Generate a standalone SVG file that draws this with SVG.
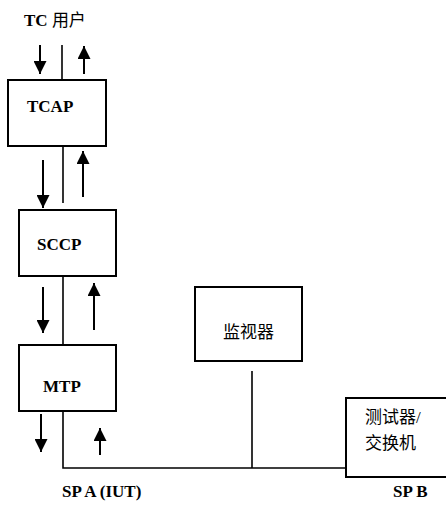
<svg xmlns="http://www.w3.org/2000/svg" width="446" height="505" viewBox="0 0 446 505">
<style>
.box{fill:#fff;stroke:#000;stroke-width:2}
.ln{fill:none;stroke:#000;stroke-width:1.6}
.ar{fill:none;stroke:#000;stroke-width:2;marker-end:url(#ah)}
.t{font-family:"Liberation Serif","Noto Sans CJK SC",serif;font-size:17px;font-weight:bold;fill:#000}
.c{font-family:"Liberation Serif","Noto Sans CJK SC",serif;font-size:17px;fill:#000}
</style>
<defs>
<marker id="ah" viewBox="0 0 13 13" refX="13" refY="6.5" markerWidth="13" markerHeight="13" markerUnits="userSpaceOnUse" orient="auto">
<path d="M0,0 L13,6.5 L0,13 z" fill="#000"/>
</marker>
</defs>
<g id="connectors">
<line class="ln" x1="62" y1="45" x2="62" y2="80"/>
<line class="ln" x1="63" y1="146" x2="63" y2="203"/>
<line class="ln" x1="63" y1="276" x2="63" y2="345"/>
<polyline class="ln" points="63,411 63,468 346,468"/>
<line class="ln" x1="252" y1="371" x2="252" y2="468"/>
<line class="ar" x1="40" y1="45" x2="40" y2="74"/>
<line class="ar" x1="84" y1="74" x2="84" y2="46"/>
<line class="ar" x1="43" y1="160" x2="43" y2="208"/>
<line class="ar" x1="83" y1="197" x2="83" y2="151"/>
<line class="ar" x1="43" y1="287" x2="43" y2="333"/>
<line class="ar" x1="94" y1="330" x2="94" y2="283"/>
<line class="ar" x1="41" y1="414" x2="41" y2="452"/>
<line class="ar" x1="100" y1="455" x2="100" y2="428"/>
</g>
<g id="tcuser"><text class="c" x="24" y="26"><tspan font-weight="bold">TC</tspan> 用户</text></g>
<g id="tcap"><rect class="box" x="8" y="80" width="98" height="66"/><text class="t" x="27" y="112">TCAP</text></g>
<g id="sccp"><rect class="box" x="19" y="210" width="97" height="66"/><text class="t" x="37" y="250">SCCP</text></g>
<g id="mtp"><rect class="box" x="19" y="345" width="97" height="66"/><text class="t" x="43" y="392">MTP</text></g>
<g id="monitor"><rect class="box" x="195" y="287" width="107" height="74"/><text class="c" x="223" y="338">监视器</text></g>
<g id="tester"><rect class="box" x="346" y="398" width="102" height="79"/><text class="c" x="365" y="423">测试器/</text><text class="c" x="365" y="449">交换机</text></g>
<g id="spa"><text class="t" x="62" y="497">SP A (IUT)</text></g>
<g id="spb"><text class="t" x="393" y="497">SP B</text></g>
</svg>
